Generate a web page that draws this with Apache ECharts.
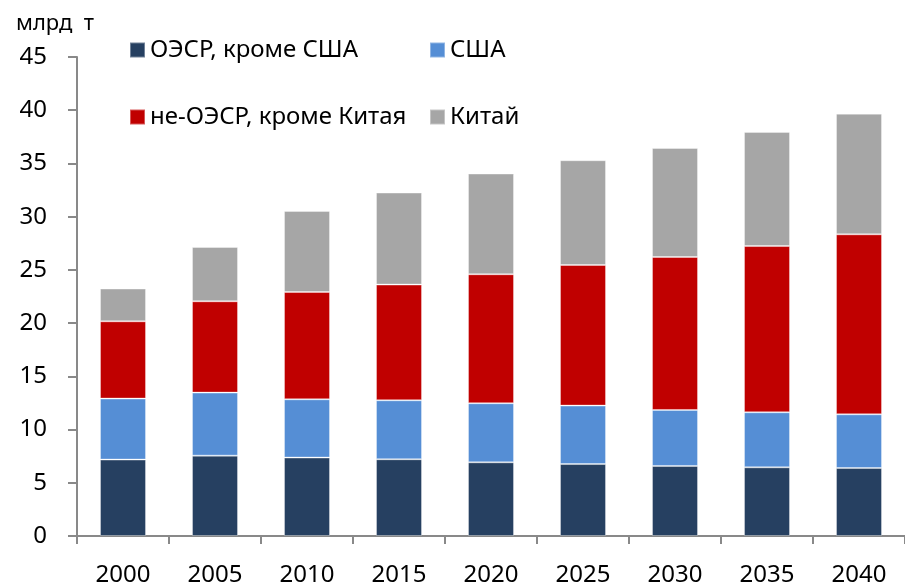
<!DOCTYPE html>
<html>
<head>
<meta charset="utf-8">
<script src="https://cdn.jsdelivr.net/npm/echarts@6/dist/echarts.min.js"></script>
<style>
    html, body { margin: 0; padding: 0; background: #fff; }
    #content { width: 905px; height: 587px; }
</style>
</head>
<body>
<div id="content"></div>
<script>
// 数据
var years = ['2000', '2005', '2010', '2015', '2020', '2025', '2030', '2035', '2040'];
var oecdExUS = [7.18, 7.55, 7.37, 7.21, 6.92, 6.76, 6.58, 6.45, 6.39];
var usa = [5.73, 5.92, 5.47, 5.54, 5.55, 5.49, 5.26, 5.17, 5.04];
var nonOecdExChina = [7.26, 8.58, 10.08, 10.87, 12.12, 13.21, 14.37, 15.62, 16.91];
var china = [3.07, 5.10, 7.61, 8.64, 9.46, 9.84, 10.24, 10.72, 11.34];
var yTicks = { min: 0, max: 45, interval: 5 };

var names = ['ОЭСР, кроме США', 'США', 'не-ОЭСР, кроме Китая', 'Китай'];
var colors = ['#264061', '#558ED5', '#C00000', '#A6A6A6'];
var font = 'Noto Sans';
var axisGray = '#898989';

var myChart = echarts.init(document.getElementById('content'));

// 图例：每项单独定位，两行两列
function legendItem(name, left, top) {
    return {
        data: [name],
        left: left,
        top: top,
        icon: 'rect',
        itemWidth: 15,
        itemHeight: 15,
        itemGap: 0,
        selectedMode: false,
        textStyle: { fontFamily: font, fontSize: 24, color: '#000', padding: [0, 0, 0, 0] }
    };
}

function barSeries(i, data) {
    return {
        name: names[i],
        type: 'bar',
        stack: 'total',
        barWidth: '50%',
        data: data,
        itemStyle: {
            color: colors[i],
            borderColor: 'rgba(255,255,255,0.35)',
            borderWidth: 1
        }
    };
}

var option = {
    animation: false,
    textStyle: { fontFamily: font },
    title: {
        text: 'млрд  т',
        left: 11,
        top: 8,
        textStyle: { fontFamily: font, fontSize: 22, fontWeight: 'normal', color: '#000' }
    },
    legend: [
        legendItem(names[0], 124, 33),
        legendItem(names[1], 424, 33),
        legendItem(names[2], 124, 100),
        legendItem(names[3], 424, 100)
    ],
    grid: { left: 77, top: 57, width: 829, bottom: 51, containLabel: false },
    xAxis: {
        type: 'category',
        data: years,
        boundaryGap: true,
        axisLine: { lineStyle: { color: axisGray, width: 2 } },
        axisTick: { show: true, alignWithLabel: false, length: 8, lineStyle: { color: axisGray, width: 2 } },
        axisLabel: { color: '#000', fontSize: 24, fontFamily: font, margin: 27 }
    },
    yAxis: {
        type: 'value',
        min: yTicks.min,
        max: yTicks.max,
        interval: yTicks.interval,
        splitLine: { show: false },
        axisLine: { show: true, lineStyle: { color: axisGray, width: 2 } },
        axisTick: { show: true, length: 9, lineStyle: { color: axisGray, width: 2 } },
        axisLabel: { color: '#000', fontSize: 24, fontFamily: font, margin: 30 }
    },
    series: [
        barSeries(0, oecdExUS),
        barSeries(1, usa),
        barSeries(2, nonOecdExChina),
        barSeries(3, china)
    ]
};

myChart.setOption(option);
</script>
</body>
</html>
